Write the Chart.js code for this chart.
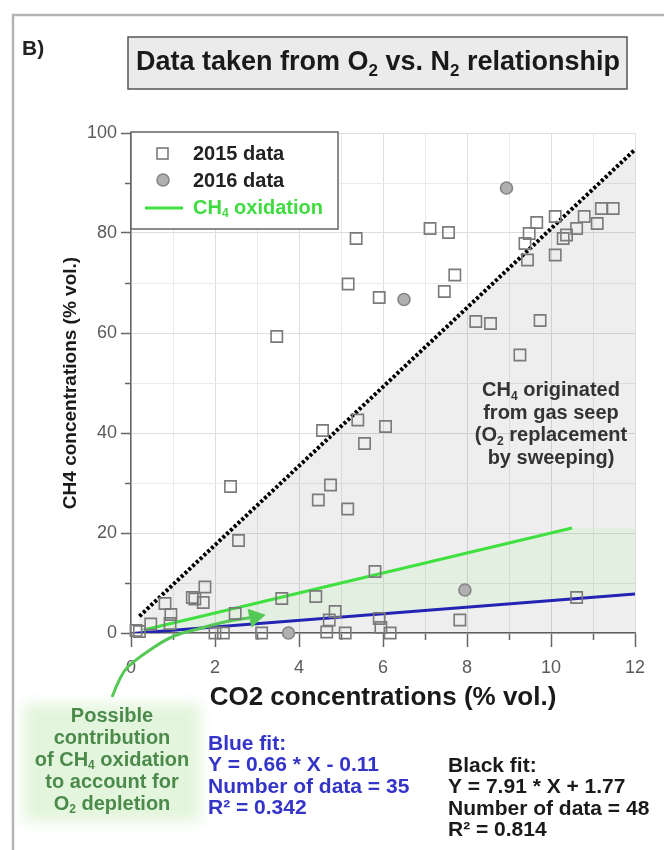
<!DOCTYPE html>
<html>
<head>
<meta charset="utf-8">
<script src="https://cdn.jsdelivr.net/npm/chart.js@4.4.0/dist/chart.umd.min.js"></script>
<style>
  html, body { margin: 0; padding: 0; background: #fff; }
  #wrap { width: 664px; height: 850px; position: relative; }
</style>
</head>
<body>
<div id="wrap"><canvas id="c" width="664" height="850"></canvas></div>
<script>
// ---- data (CO2 % vol. vs CH4 % vol.) ----
const x2015 = [3.47, 5.36, 5.17, 5.91, 7.12, 7.56, 7.71, 7.46, 8.21, 8.56, 9.74, 9.26,
  9.66, 10.1, 9.48, 9.38, 9.44, 10.1, 10.29, 10.37, 10.61, 10.79, 11.1, 11.2, 11.48,
  4.56, 5.4, 6.06, 5.56, 2.37, 4.75, 4.46, 5.16, 2.56, 5.81,
  3.59, 4.4, 4.86, 4.72, 5.91, 5.95, 6.17, 4.66, 5.1, 3.11, 2.48, 2.0, 2.2,
  1.46, 1.52, 1.76, 1.72, 0.81, 0.95, 0.93, 0.47, 0.12, 0.2, 7.83, 10.61];
const y2015 = [59.3, 78.9, 69.8, 67.1, 80.9, 80.1, 71.6, 68.3, 62.3, 61.9, 62.5, 55.6,
  82.1, 83.3, 79.9, 77.9, 74.6, 75.6, 78.9, 79.6, 80.9, 83.3, 81.9, 84.9, 84.9,
  40.5, 42.6, 41.3, 37.9, 29.3, 29.6, 26.6, 24.8, 18.5, 12.3,
  6.9, 7.3, 4.3, 2.6, 2.9, 1.1, 0, 0.2, 0, 0, 3.9, 0, 0,
  7.1, 6.8, 9.2, 6.1, 5.9, 3.7, 1.9, 1.8, 0.5, 0.3, 2.6, 7.1];
const x2016 = [8.94, 6.5, 3.75, 7.95];
const y2016 = [89.0, 66.7, 0.0, 8.6];

// regression fits as printed under the plot
const blackFit = { slope: 7.91, intercept: 1.77, from: 0.2, to: 12 };
const blueFit  = { slope: 0.66, intercept: -0.11, from: 0.1, to: 12 };

// stoichiometric CH4 oxidation line
const oxidationX = [0.3, 10.5];
const oxidationY = [0.6, 21.0];

// curved pointer from the note box to the oxidation zone (tip first)
const pointerX = [2.95, 2.28, 1.64, 1.0, 0.45, -0.1, -0.3, -0.45];
const pointerY = [3.2, 2.3, 0.9, -0.7, -3.4, -7.0, -9.8, -12.8];

const xTickValues = [0, 2, 4, 6, 8, 10, 12];
const yTickValues = [0, 20, 40, 60, 80, 100];
const xMinorValues = [1, 3, 5, 7, 9, 11];
const yMinorValues = [10, 30, 50, 70, 90];

const FONT = '"Liberation Sans", Arial, Helvetica, sans-serif';

const fitPoints = f => [
  { x: f.from, y: f.slope * f.from + f.intercept },
  { x: f.to,   y: f.slope * f.to + f.intercept }
];
const zip = (xs, ys) => xs.map((x, i) => ({ x, y: ys[i] }));

const blackPts = fitPoints(blackFit);
const bluePts = fitPoints(blueFit);
const oxPts = zip(oxidationX, oxidationY);

// shaded zones
const seepZone = [blackPts[0], blackPts[1], { x: blackFit.to, y: 0 }, { x: blackFit.from, y: 0 }];
const oxZone = [oxPts[0], oxPts[1], { x: blueFit.to, y: oxPts[1].y }, bluePts[1], bluePts[0]];

// ---- rich text helper (sub/superscripts) ----
function drawRich(ctx, parts, x, y, size, align, color, weight) {
  weight = weight || 'bold';
  const segs = parts.map(p => (typeof p === 'string' ? { t: p, s: 0 } : p));
  let w = 0;
  for (const s of segs) {
    ctx.font = `${weight} ${s.s ? Math.round(size * 0.62) : size}px ${FONT}`;
    s.w = ctx.measureText(s.t).width;
    w += s.w;
  }
  let cx = align === 'center' ? x - w / 2 : (align === 'right' ? x - w : x);
  ctx.textAlign = 'left';
  ctx.textBaseline = 'middle';
  ctx.fillStyle = color;
  for (const s of segs) {
    ctx.font = `${weight} ${s.s ? Math.round(size * 0.62) : size}px ${FONT}`;
    const dy = s.s === 1 ? size * 0.3 : (s.s === -1 ? -size * 0.3 : 0);
    ctx.fillText(s.t, cx, y + dy);
    cx += s.w;
  }
  return w;
}
const SUB = t => ({ t, s: 1 });

const titleParts = ['Data taken from O', SUB('2'), ' vs. N', SUB('2'), ' relationship'];
const seepNote = [
  ['CH', SUB('4'), ' originated'],
  ['from gas seep'],
  ['(O', SUB('2'), ' replacement'],
  ['by sweeping)']
];
const oxNote = [
  ['Possible'],
  ['contribution'],
  ['of CH', SUB('4'), ' oxidation'],
  ['to account for'],
  ['O', SUB('2'), ' depletion']
];
const blueNote = ['Blue fit:', 'Y = 0.66 * X - 0.11', 'Number of data = 35', 'R\u00B2 = 0.342'];
const blackNote = ['Black fit:', 'Y = 7.91 * X + 1.77', 'Number of data = 48', 'R\u00B2 = 0.814'];

// ---- decorations drawn around the plot ----
const decorations = {
  id: 'decorations',
  beforeDraw(chart) {
    const ctx = chart.ctx;
    ctx.save();
    ctx.fillStyle = '#fff';
    ctx.fillRect(0, 0, chart.width, chart.height);
    // panel frame
    ctx.strokeStyle = '#b4b4b4';
    ctx.lineWidth = 2.5;
    ctx.beginPath();
    ctx.moveTo(13, 850); ctx.lineTo(13, 15); ctx.lineTo(664, 15);
    ctx.stroke();
    // panel letter
    drawRich(ctx, ['B)'], 22, 49, 21, 'left', '#222');
    // title box
    ctx.fillStyle = '#ebebeb';
    ctx.fillRect(128, 37, 499, 52);
    ctx.strokeStyle = '#555';
    ctx.lineWidth = 1.5;
    ctx.strokeRect(128, 37, 499, 52);
    drawRich(ctx, titleParts, 378, 63, 27, 'center', '#1a1a1a');
    // soft green note background
    ctx.filter = 'blur(7px)';
    ctx.fillStyle = '#e3f5dc';
    ctx.fillRect(24, 704, 176, 118);
    ctx.filter = 'none';
    ctx.restore();
  },
  afterDraw(chart) {
    const ctx = chart.ctx;
    const xs = chart.scales.x, ys = chart.scales.y;
    const ds = chart.data.datasets;
    ctx.save();
    // legend
    const L = { l: 131, t: 132, r: 338, b: 229 };
    ctx.fillStyle = '#fff';
    ctx.fillRect(L.l, L.t, L.r - L.l, L.b - L.t);
    ctx.strokeStyle = '#666';
    ctx.lineWidth = 1.5;
    ctx.strokeRect(L.l, L.t, L.r - L.l, L.b - L.t);
    const s15 = ds[6], s16 = ds[7], sOx = ds[3];
    ctx.strokeStyle = s15.borderColor;
    ctx.lineWidth = s15.borderWidth;
    ctx.strokeRect(157, 148, 11, 11);
    ctx.beginPath();
    ctx.arc(163, 180, 6, 0, Math.PI * 2);
    ctx.fillStyle = s16.backgroundColor;
    ctx.fill();
    ctx.strokeStyle = s16.borderColor;
    ctx.lineWidth = s16.borderWidth;
    ctx.stroke();
    ctx.strokeStyle = sOx.borderColor;
    ctx.lineWidth = sOx.borderWidth;
    ctx.beginPath();
    ctx.moveTo(145, 208); ctx.lineTo(183, 208);
    ctx.stroke();
    drawRich(ctx, ['2015 data'], 193, 154, 20, 'left', '#222');
    drawRich(ctx, ['2016 data'], 193, 181, 20, 'left', '#222');
    drawRich(ctx, ['CH', SUB('4'), ' oxidation'], 193, 208, 20, 'left', '#3fdc3f');

    // seep note inside the plot
    const nx = xs.getPixelForValue(10.0);
    let ny = ys.getPixelForValue(48.5);
    for (const line of seepNote) { drawRich(ctx, line, nx, ny, 20, 'center', '#333'); ny += 22.5; }

    // oxidation note
    let oy = 716;
    for (const line of oxNote) { drawRich(ctx, line, 112, oy, 20, 'center', '#4c8a4c'); oy += 22; }

    // fit summaries
    let by = 744;
    for (const line of blueNote) { drawRich(ctx, [line], 208, by, 21, 'left', '#3434c8'); by += 21.5; }
    let ky = 766;
    for (const line of blackNote) { drawRich(ctx, [line], 448, ky, 21, 'left', '#1a1a1a'); ky += 21.5; }
    ctx.restore();
  }
};

const fixedTicks = vals => scale => { scale.ticks = vals.map(v => ({ value: v })); };

const chart = new Chart(document.getElementById('c'), {
  type: 'scatter',
  data: {
    datasets: [
      { // 0: seep zone below the black fit
        data: seepZone, showLine: true, fill: 'shape', tension: 0,
        backgroundColor: 'rgba(0,0,0,0.065)', borderColor: 'rgba(0,0,0,0)', borderWidth: 0,
        pointRadius: 0, order: 20
      },
      { // 1: oxidation zone
        data: oxZone, showLine: true, fill: 'shape', tension: 0,
        backgroundColor: 'rgba(150,245,140,0.13)', borderColor: 'rgba(0,0,0,0)', borderWidth: 0,
        pointRadius: 0, order: 19
      },
      { // 2: black fit
        data: blackPts, showLine: true, fill: false,
        borderColor: '#000', borderWidth: 4, borderDash: [3, 2.2],
        pointRadius: 0, order: 5
      },
      { // 3: CH4 oxidation
        data: oxPts, showLine: true, fill: false,
        borderColor: '#3fe03f', borderWidth: 3,
        pointRadius: 0, order: 6
      },
      { // 4: blue fit
        data: bluePts, showLine: true, fill: false,
        borderColor: '#2323b4', borderWidth: 3,
        pointRadius: 0, order: 5
      },
      { // 5: curved pointer
        data: zip(pointerX, pointerY), showLine: true, fill: false, tension: 0.4,
        borderColor: '#55c855', borderWidth: 3, clip: false,
        pointStyle: 'triangle',
        pointRadius: c => (c.dataIndex === 0 ? 8 : 0),
        pointRotation: 78,
        pointBackgroundColor: '#55c855', pointBorderColor: '#55c855',
        order: 4
      },
      { // 6: 2015 data
        label: '2015 data', data: zip(x2015, y2015), pointStyle: 'rect',
        pointRadius: 8, pointBorderWidth: 1.6, borderWidth: 1.6,
        borderColor: '#7a7a7a', pointBorderColor: '#7a7a7a',
        backgroundColor: 'rgba(0,0,0,0)', pointBackgroundColor: 'rgba(0,0,0,0)',
        clip: false, order: 1
      },
      { // 7: 2016 data
        label: '2016 data', data: zip(x2016, y2016), pointStyle: 'circle',
        pointRadius: 6, pointBorderWidth: 1.6, borderWidth: 1.6,
        borderColor: '#858585', pointBorderColor: '#858585',
        backgroundColor: '#b0b0b0', pointBackgroundColor: '#b0b0b0',
        clip: false, order: 0
      }
    ]
  },
  options: {
    responsive: false,
    devicePixelRatio: 1,
    animation: false,
    layout: { padding: { left: 14, top: 133, right: 29, bottom: 137 } },
    plugins: { legend: { display: false }, tooltip: { enabled: false }, title: { display: false } },
    scales: {
      x: {
        type: 'linear', position: 'bottom', min: 0, max: 12, weight: 1,
        afterBuildTicks: fixedTicks(xTickValues),
        afterFit: s => { s.height = 80; },
        ticks: { color: '#5a5a5a', padding: 10, font: { size: 18, family: FONT } },
        grid: { color: '#dedede', lineWidth: 1, tickLength: 14, tickColor: '#666', tickWidth: 1.5 },
        border: { color: '#666', width: 1.5 },
        title: { display: true, text: 'CO2 concentrations (% vol.)', color: '#1a1a1a',
                 font: { size: 26, weight: 'bold', family: FONT }, padding: { top: 0, bottom: 0 } }
      },
      xMinor: {
        type: 'linear', position: 'bottom', min: 0, max: 12, weight: 0,
        afterBuildTicks: fixedTicks(xMinorValues),
        afterFit: s => { s.height = 0; },
        ticks: { display: false },
        grid: { color: '#eaeaea', lineWidth: 1, tickLength: 7, tickColor: '#666', tickWidth: 1.5 },
        border: { display: false }
      },
      y: {
        type: 'linear', position: 'left', min: 0, max: 100, weight: 1,
        afterBuildTicks: fixedTicks(yTickValues),
        afterFit: s => { s.width = 117; },
        ticks: { color: '#5a5a5a', padding: 4, font: { size: 18, family: FONT } },
        grid: { color: '#dedede', lineWidth: 1, tickLength: 10, tickColor: '#666', tickWidth: 1.5 },
        border: { color: '#666', width: 1.5 },
        title: { display: true, text: 'CH4 concentrations (% vol.)', color: '#1a1a1a',
                 font: { size: 19, weight: 'bold', family: FONT }, padding: { top: 45, bottom: 0 } }
      },
      yMinor: {
        type: 'linear', position: 'left', min: 0, max: 100, weight: 0,
        afterBuildTicks: fixedTicks(yMinorValues),
        afterFit: s => { s.width = 0; },
        ticks: { display: false },
        grid: { color: '#eaeaea', lineWidth: 1, tickLength: 6, tickColor: '#666', tickWidth: 1.5 },
        border: { display: false }
      }
    }
  },
  plugins: [decorations]
});
</script>
</body>
</html>
